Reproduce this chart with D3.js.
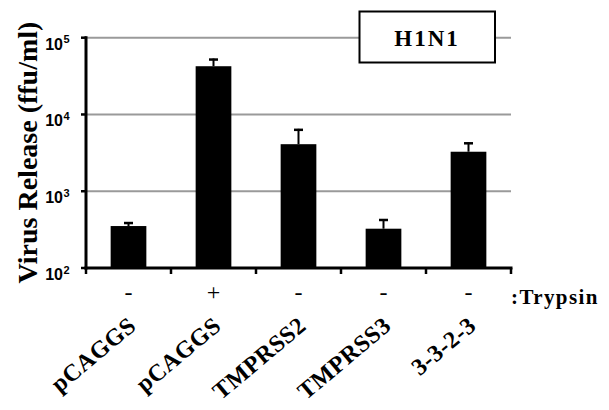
<!DOCTYPE html>
<html>
<head>
<meta charset="utf-8">
<script src="https://cdn.jsdelivr.net/npm/d3@7"></script>
<style>
  body { margin: 0; background: #fff; }
  svg { display: block; background: #fff; }
</style>
</head>
<body>
<svg id="chart"></svg>
<script>
// data
const categories = ["pCAGGS", "pCAGGS", "TMPRSS2", "TMPRSS3", "3-3-2-3"];
const trypsin = ["-", "+", "-", "-", "-"];
const release = [352, 42500, 4100, 325, 3270];     // ffu/ml
const errorUp = [45, 11000, 2400, 110, 1070];      // upper error bar
const yTicks = [100, 1000, 10000, 100000];
const yTickPowers = ["2", "3", "4", "5"];
const legendText = "H1N1";

const W = 609, H = 410;
const serif = "'Liberation Serif', 'Times New Roman', serif";
const sans = "'Liberation Sans', Arial, sans-serif";

const svg = d3.select("#chart").attr("width", W).attr("height", H);

const x = d3.scaleBand()
  .domain(d3.range(categories.length))
  .range([86, 511])
  .paddingInner(0.58)
  .paddingOuter(0.29);

const y = d3.scaleLog()
  .domain([100, 100000])
  .range([268, 37.7]);

const step = x.step();
const cx = i => x(i) + x.bandwidth() / 2;

// category labels first, rotation on a wrapping group
const labG = svg.append("g")
  .selectAll("g")
  .data(categories)
  .enter().append("g")
    .attr("transform", (d, i) => `translate(${cx(i) + 9},328) rotate(-40)`);
labG.append("text")
  .attr("text-anchor", "end")
  .attr("font-family", serif)
  .attr("font-weight", "bold")
  .attr("font-size", 24)
  .attr("letter-spacing", 0.5)
  .text(d => d);

// gridlines
svg.append("g")
  .selectAll("line")
  .data(yTicks.slice(1))
  .enter().append("line")
    .attr("x1", 86).attr("x2", 511)
    .attr("y1", d => y(d)).attr("y2", d => y(d))
    .attr("stroke", "#9a9a9a")
    .attr("stroke-width", 2);

// bars
svg.append("g")
  .selectAll("rect")
  .data(release)
  .enter().append("rect")
    .attr("x", (d, i) => x(i))
    .attr("width", x.bandwidth())
    .attr("y", d => y(d))
    .attr("height", d => y(100) - y(d))
    .attr("fill", "#000");

// error bars
const err = svg.append("g").attr("stroke", "#000").attr("stroke-width", 2);
release.forEach((d, i) => {
  const top = y(d + errorUp[i]);
  err.append("line")
    .attr("x1", cx(i)).attr("x2", cx(i))
    .attr("y1", y(d)).attr("y2", top);
  err.append("line")
    .attr("x1", cx(i) - 4.5).attr("x2", cx(i) + 4.5)
    .attr("y1", top + 1).attr("y2", top + 1)
    .attr("stroke-width", 2.5);
});

// y axis
svg.append("line")
  .attr("x1", 86).attr("x2", 86)
  .attr("y1", y(100000) - 1.5).attr("y2", y(100) + 1.5)
  .attr("stroke", "#000").attr("stroke-width", 3);

svg.append("g")
  .selectAll("line")
  .data(yTicks)
  .enter().append("line")
    .attr("x1", 81).attr("x2", 86)
    .attr("y1", d => y(d)).attr("y2", d => y(d))
    .attr("stroke", "#000").attr("stroke-width", 2.5);

// tick labels: "10" plus a separate superscript
svg.append("g")
  .selectAll("text")
  .data(yTicks)
  .enter().append("text")
    .attr("x", 63)
    .attr("y", d => y(d) + 12)
    .attr("text-anchor", "end")
    .attr("font-family", sans)
    .attr("font-weight", "bold")
    .attr("font-size", 16)
    .text("10");

svg.append("g")
  .selectAll("text")
  .data(yTicks)
  .enter().append("text")
    .attr("x", 63.5)
    .attr("y", d => y(d) + 5.5)
    .attr("font-family", sans)
    .attr("font-weight", "bold")
    .attr("font-size", 11)
    .text((d, i) => yTickPowers[i]);

// x axis
svg.append("line")
  .attr("x1", 84.5).attr("x2", 512.5)
  .attr("y1", y(100)).attr("y2", y(100))
  .attr("stroke", "#000").attr("stroke-width", 3);

svg.append("g")
  .selectAll("line")
  .data(d3.range(categories.length + 1))
  .enter().append("line")
    .attr("x1", i => 86 + i * step).attr("x2", i => 86 + i * step)
    .attr("y1", y(100)).attr("y2", y(100) + 6)
    .attr("stroke", "#000").attr("stroke-width", 2.5);

// trypsin signs
svg.append("g")
  .selectAll("text")
  .data(trypsin)
  .enter().append("text")
    .attr("x", (d, i) => cx(i))
    .attr("y", 300)
    .attr("text-anchor", "middle")
    .attr("font-family", serif)
    .attr("font-size", 24)
    .text(d => d);

svg.append("text")
  .attr("x", 511)
  .attr("y", 304)
  .attr("font-family", serif)
  .attr("font-weight", "bold")
  .attr("font-size", 21)
  .attr("letter-spacing", 1.4)
  .text(":Trypsin");

// y axis title
svg.append("g")
  .attr("transform", "translate(37,152.5) rotate(-90)")
  .append("text")
    .attr("text-anchor", "middle")
    .attr("font-family", serif)
    .attr("font-weight", "bold")
    .attr("font-size", 28)
    .text("Virus Release (ffu/ml)");

// legend box
svg.append("rect")
  .attr("x", 359.5).attr("y", 11.5)
  .attr("width", 135.5).attr("height", 51)
  .attr("fill", "#fff")
  .attr("stroke", "#000").attr("stroke-width", 2);

svg.append("text")
  .attr("x", 427)
  .attr("y", 46)
  .attr("text-anchor", "middle")
  .attr("font-family", serif)
  .attr("font-weight", "bold")
  .attr("font-size", 23)
  .attr("letter-spacing", 2)
  .text(legendText);
</script>
</body>
</html>
